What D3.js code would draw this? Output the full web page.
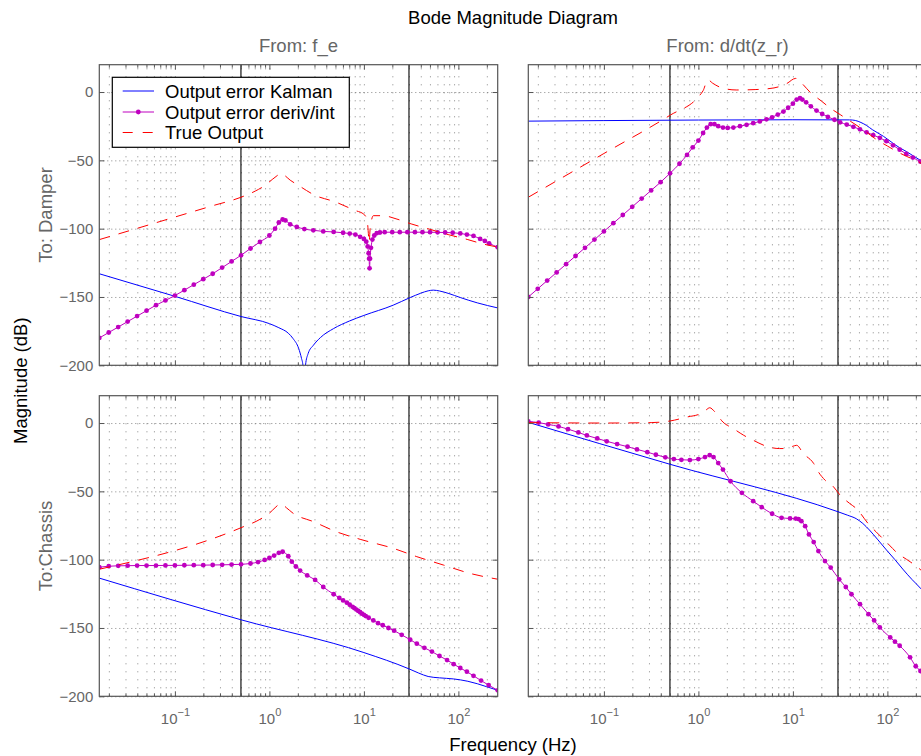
<!DOCTYPE html>
<html><head><meta charset="utf-8">
<script src="https://cdn.jsdelivr.net/npm/d3@7"></script>
<style>
html,body{margin:0;padding:0;background:#fff;}
svg{display:block;font-family:"Liberation Sans",Arial,Helvetica,sans-serif;}
</style></head><body><svg id="chart" width="921" height="756"></svg>
<script>
// ---------- labels / ticks ----------
const titleText = "Bode Magnitude Diagram";
const colLabels = ["From: f_e", "From: d/dt(z_r)"];
const rowLabels = ["To: Damper", "To:Chassis"];
const xLabel = "Frequency (Hz)";
const yLabel = "Magnitude (dB)";
const legendLabels = ["Output error Kalman", "Output error deriv/int", "True Output"];
const yTicks = [0, -50, -100, -150, -200];
const xTickMajors = [0.1, 1, 10, 100];
const xTickExps = ["\u22121", "0", "1", "2"];
const markerFreqs = [0.5, 30];
const logFreqRange = [-1.8, 2.416];   // log10(Hz)
const dbRange = [-200, 20];

// ---------- series: [log10(freq Hz), magnitude dB] ----------
// Damper <- f_e
const kalmanDamperFe = [[-1.8,-133],[-1.0,-149.5],[-0.3,-164.3],[0,-169.5],[0.1,-172.5],[0.2,-176.5],[0.25,-180.4],[0.31,-187.7],[0.34,-195],[0.355,-200],[0.368,-240],[0.382,-200],[0.41,-191.4],[0.466,-185.3],[0.54,-179.7],[0.68,-173.1],[0.85,-167.5],[1.0,-163.5],[1.31,-156],[1.49,-150.4],[1.6,-147.3],[1.68,-145.5],[1.735,-145],[1.8,-145.6],[1.9,-147.5],[2.02,-150.4],[2.2,-154.3],[2.416,-158]];
const derivDamperFe = [[-1.8,-180],[-1.7,-176],[-1.6,-172],[-1.5,-168],[-1.4,-164],[-1.3,-160],[-1.2,-156],[-1.1,-152.5],[-1.0,-149],[-0.9,-145],[-0.8,-141],[-0.7,-137],[-0.6,-133],[-0.5,-128.5],[-0.4,-124],[-0.3,-119.5],[-0.2,-114.5],[-0.1,-109.7],[0.0,-105],[0.06,-100],[0.1,-95.5],[0.14,-93.3],[0.17,-94],[0.22,-96.8],[0.29,-98.7],[0.37,-100.3],[0.465,-101.2],[0.57,-102],[0.68,-102.4],[0.78,-103],[0.85,-103.6],[0.91,-104.3],[0.96,-106],[1.0,-107.5],[1.025,-109.5],[1.04,-113],[1.05,-118],[1.055,-122],[1.06,-129],[1.065,-122],[1.075,-114],[1.09,-108],[1.11,-105],[1.136,-103.3],[1.17,-102.8],[1.22,-102.6],[1.3,-102.6],[1.38,-102.6],[1.46,-102.6],[1.54,-102.6],[1.62,-102.6],[1.7,-102.6],[1.78,-102.7],[1.86,-102.8],[1.94,-103],[2.02,-103.5],[2.09,-104.3],[2.16,-105.3],[2.23,-107.5],[2.28,-109],[2.325,-110.7],[2.416,-113.6]];
const trueDamperFe = [[-1.8,-108],[-1.4,-99.8],[-1.0,-91.5],[-0.6,-83.2],[-0.3,-77],[-0.15,-72.5],[-0.05,-68.5],[0.03,-64],[0.08,-61.3],[0.12,-59.5],[0.16,-61],[0.22,-64.5],[0.3,-68],[0.48,-75.5],[0.7,-80.5],[0.9,-86.5],[1.0,-89.5],[1.025,-92],[1.04,-97],[1.05,-106],[1.056,-110],[1.065,-101],[1.08,-94],[1.1,-90.5],[1.2,-90.5],[1.35,-93],[1.5,-96.5],[1.7,-100.5],[1.9,-104.5],[2.1,-108],[2.25,-111],[2.416,-113.5]];
// Damper <- d/dt(z_r)
const kalmanDamperDz = [[-1.8,-21.3],[-1.0,-20.9],[0,-20.5],[1.0,-20.3],[1.6,-20.4],[1.66,-20.8],[1.72,-22.3],[1.78,-24.5],[1.84,-27.5],[1.9,-30],[1.96,-32.5],[2.05,-37],[2.13,-40.8],[2.2,-43.5],[2.28,-47],[2.35,-50],[2.416,-53]];
const derivDamperDz = [[-1.8,-150],[-1.7,-144],[-1.6,-138],[-1.5,-132],[-1.4,-126],[-1.3,-120],[-1.2,-114],[-1.1,-108],[-1.0,-102],[-0.9,-96],[-0.8,-90],[-0.7,-84],[-0.6,-78],[-0.5,-72],[-0.4,-66],[-0.3,-59.5],[-0.2,-52.5],[-0.12,-46],[-0.06,-40.5],[0.0,-35.5],[0.05,-30],[0.09,-26],[0.13,-23.5],[0.17,-23.5],[0.21,-25],[0.26,-26],[0.31,-26.3],[0.37,-26],[0.44,-25],[0.51,-24],[0.58,-22.8],[0.65,-21.5],[0.72,-20],[0.78,-18.5],[0.84,-16.5],[0.9,-14.3],[0.95,-11.5],[1.0,-8.5],[1.04,-5.5],[1.075,-4.5],[1.1,-5.5],[1.14,-7.5],[1.19,-10.5],[1.25,-13.6],[1.31,-16],[1.37,-18.2],[1.44,-20.3],[1.5,-22.2],[1.57,-23.8],[1.64,-25.5],[1.71,-27.3],[1.78,-29.5],[1.85,-31.5],[1.92,-33.5],[1.99,-36],[2.06,-39],[2.13,-42.2],[2.2,-45.3],[2.27,-48],[2.35,-51],[2.416,-54]];
const trueDamperDz = [[-1.8,-77],[-1.0,-45],[-0.3,-17],[0.0,-3.5],[0.05,1],[0.1,9],[0.15,6.5],[0.25,3],[0.4,1.5],[0.6,1.8],[0.8,3],[0.93,6],[1.03,10],[1.1,6],[1.18,0],[1.3,-6.5],[1.4,-12],[1.5,-16.5],[1.6,-21],[1.7,-25.5],[1.8,-30.5],[1.9,-35.5],[2.0,-39.5],[2.1,-43.5],[2.2,-47],[2.3,-50],[2.416,-54.5]];
// Chassis <- f_e
const kalmanChassisFe = [[-1.8,-113.5],[-0.3,-144],[1.0,-168],[1.48,-180],[1.58,-183],[1.68,-185.5],[1.8,-186.5],[1.95,-187.3],[2.1,-189],[2.2,-190.8],[2.3,-193],[2.416,-195.6]];
const derivChassisFe = [[-1.8,-105.5],[-1.7,-104.8],[-1.6,-104.5],[-1.5,-104.4],[-1.4,-104.3],[-1.3,-104.3],[-1.2,-104.3],[-1.1,-104.2],[-1.0,-104.2],[-0.9,-104.1],[-0.8,-104],[-0.7,-104],[-0.6,-103.9],[-0.5,-103.8],[-0.4,-103.6],[-0.3,-103.4],[-0.2,-102.8],[-0.12,-101.8],[-0.05,-100.2],[0,-98.8],[0.05,-97],[0.1,-95],[0.14,-94.2],[0.2,-97.5],[0.237,-101.5],[0.28,-105],[0.325,-108],[0.4,-111.5],[0.484,-114.8],[0.57,-120],[0.68,-125.3],[0.74,-128],[0.78,-129.8],[0.82,-131.5],[0.85,-133],[0.88,-134.5],[0.9,-135.5],[0.92,-136.5],[0.94,-137.5],[0.96,-138.5],[0.98,-139.5],[1.0,-140.4],[1.02,-141.3],[1.05,-142.5],[1.1,-144.5],[1.15,-146.5],[1.2,-148],[1.26,-150],[1.32,-152],[1.4,-155],[1.49,-158.6],[1.56,-161.5],[1.64,-164.5],[1.72,-167.3],[1.8,-170.5],[1.88,-173.5],[1.95,-176.5],[2.02,-179.3],[2.09,-182],[2.16,-185],[2.24,-188.5],[2.32,-191.8],[2.416,-195.6]];
const trueChassisFe = [[-1.8,-107],[-0.3,-76.6],[-0.1,-70.5],[0,-66],[0.06,-62],[0.12,-59],[0.18,-62],[0.25,-66],[0.47,-72.3],[0.71,-79.6],[0.96,-85.1],[1.31,-91.7],[1.56,-97.8],[1.84,-103.9],[2.12,-110],[2.416,-114.3]];
// Chassis <- d/dt(z_r)
const kalmanChassisDz = [[-1.8,0.5],[-0.3,-30.2],[1.48,-65],[1.58,-67.5],[1.67,-70],[1.74,-73.5],[1.81,-78.3],[1.9,-85.5],[1.99,-92.9],[2.08,-100],[2.17,-107.5],[2.26,-114.5],[2.35,-120.9],[2.416,-126.5]];
const derivChassisDz = [[-1.8,1.2],[-1.69,0.3],[-1.59,-1],[-1.48,-2.5],[-1.38,-4.5],[-1.27,-6.9],[-1.18,-9.1],[-1.07,-11.3],[-0.97,-13.4],[-0.86,-15.4],[-0.75,-17.3],[-0.65,-19.3],[-0.54,-21.3],[-0.45,-23.2],[-0.35,-25.1],[-0.26,-26.4],[-0.18,-26.9],[-0.09,-27.1],[0,-26.4],[0.07,-24.9],[0.12,-23.5],[0.16,-24.9],[0.21,-29.3],[0.26,-34.1],[0.34,-42.6],[0.46,-51.1],[0.58,-57.2],[0.67,-61.6],[0.78,-66.4],[0.88,-69.4],[0.97,-69.8],[1.03,-69.9],[1.06,-70.3],[1.09,-71.8],[1.13,-75.5],[1.17,-81.5],[1.22,-87.1],[1.27,-93.7],[1.34,-101],[1.4,-105.8],[1.49,-114.4],[1.56,-120],[1.62,-125.3],[1.71,-132.6],[1.8,-139.9],[1.86,-144.5],[1.92,-149.6],[2.03,-156.9],[2.08,-160],[2.13,-163],[2.24,-171.5],[2.3,-178],[2.35,-181.5],[2.416,-186]];
const trueChassisDz = [[-1.8,0.3],[-1.0,0],[-0.5,0.3],[-0.3,1.5],[-0.12,4.4],[0.02,6.8],[0.08,9.5],[0.12,11.2],[0.17,8.5],[0.26,0.7],[0.37,-4.1],[0.48,-9],[0.58,-12.6],[0.72,-17],[0.86,-18.7],[0.93,-18.6],[1.0,-17],[1.04,-16.3],[1.11,-22.3],[1.22,-29.6],[1.27,-35.8],[1.34,-41.8],[1.43,-46.7],[1.5,-52.8],[1.6,-58.8],[1.67,-62.5],[1.81,-74.7],[1.88,-79.6],[2.02,-89.3],[2.09,-94.2],[2.24,-101.5],[2.31,-105],[2.416,-111.5]];

// ---------- layout ----------
const colX = [99.3, 528.3], plotW = 398.4;
const rowY = [64.7, 395.7], plotH = 300.6;
const colors = {kal: "#0000ff", der: "#bf00bf", tru: "#ff0000"};
const grayText = "#666666";

const panels = [
  {r:0, c:0, kal:kalmanDamperFe,  der:derivDamperFe,  tru:trueDamperFe},
  {r:0, c:1, kal:kalmanDamperDz,  der:derivDamperDz,  tru:trueDamperDz},
  {r:1, c:0, kal:kalmanChassisFe, der:derivChassisFe, tru:trueChassisFe},
  {r:1, c:1, kal:kalmanChassisDz, der:derivChassisDz, tru:trueChassisDz}
];

const svg = d3.select("#chart");
const defs = svg.append("defs");

panels.forEach(p => {
  const x0 = colX[p.c], y0 = rowY[p.r];
  const x = d3.scaleLog().domain([10 ** logFreqRange[0], 10 ** logFreqRange[1]]).range([x0, x0 + plotW]);
  const y = d3.scaleLinear().domain(dbRange).range([y0 + plotH, y0]);
  const g = svg.append("g");
  const cid = `clip${p.r}${p.c}`;
  defs.append("clipPath").attr("id", cid).append("rect")
    .attr("x", x0).attr("y", y0).attr("width", plotW).attr("height", plotH);

  g.append("rect").attr("x", x0).attr("y", y0).attr("width", plotW).attr("height", plotH).attr("fill", "#fff");

  // grid
  const allTicks = x.ticks();
  const vg = g.append("g").attr("transform", `translate(0,${y0 + plotH})`)
    .call(d3.axisBottom(x).tickValues(allTicks).tickSize(-plotH).tickFormat(""));
  vg.select(".domain").remove();
  vg.selectAll("line").attr("stroke", "#6a6a6a").attr("stroke-width", 0.8).attr("stroke-dasharray", "1,7");
  const hg = g.append("g").attr("transform", `translate(${x0},0)`)
    .call(d3.axisLeft(y).tickValues(yTicks).tickSize(-plotW).tickFormat(""));
  hg.select(".domain").remove();
  hg.selectAll("line").attr("stroke", "#6a6a6a").attr("stroke-width", 0.8).attr("stroke-dasharray", "1,3");

  // vertical marker lines
  markerFreqs.forEach(f => {
    g.append("line").attr("x1", x(f)).attr("x2", x(f)).attr("y1", y0).attr("y2", y0 + plotH)
      .attr("stroke", "#000").attr("stroke-width", 1.1);
  });

  const cg = g.append("g").attr("clip-path", `url(#${cid})`);
  const line = d3.line().x(d => x(10 ** d[0])).y(d => y(d[1])).curve(d3.curveMonotoneX);
  cg.append("path").attr("d", line(p.kal)).attr("fill", "none").attr("stroke", colors.kal).attr("stroke-width", 1);
  cg.append("path").attr("d", line(p.der)).attr("fill", "none").attr("stroke", colors.der).attr("stroke-width", 1);
  cg.selectAll("circle.m").data(p.der).join("circle").attr("class", "m")
    .attr("cx", d => x(10 ** d[0])).attr("cy", d => y(d[1])).attr("r", 2.4).attr("fill", colors.der);
  cg.append("path").attr("d", line(p.tru)).attr("fill", "none").attr("stroke", colors.tru).attr("stroke-width", 1)
    .attr("stroke-dasharray", "11,9");

  // tick marks (inward)
  const minorTicks = allTicks.filter(t => !xTickMajors.includes(t));
  const axStyle = sel => { sel.select(".domain").remove(); sel.selectAll("line").attr("stroke", "#555").attr("stroke-width", 1); };
  [[d3.axisBottom, y0 + plotH], [d3.axisTop, y0]].forEach(([ax, ty]) => {
    g.append("g").attr("transform", `translate(0,${ty})`).call(ax(x).tickValues(xTickMajors).tickSizeInner(-5).tickSizeOuter(0).tickFormat("")).call(axStyle);
    g.append("g").attr("transform", `translate(0,${ty})`).call(ax(x).tickValues(minorTicks).tickSizeInner(-3).tickSizeOuter(0).tickFormat("")).call(axStyle);
  });
  [[d3.axisLeft, x0], [d3.axisRight, x0 + plotW]].forEach(([ax, tx]) => {
    g.append("g").attr("transform", `translate(${tx},0)`).call(ax(y).tickValues(yTicks).tickSizeInner(-5).tickSizeOuter(0).tickFormat("")).call(axStyle);
  });

  // box
  g.append("rect").attr("x", x0).attr("y", y0).attr("width", plotW).attr("height", plotH)
    .attr("fill", "none").attr("stroke", "#555").attr("stroke-width", 1.2);

  // y tick labels (left column)
  if (p.c === 0) {
    const yl = g.append("g").attr("transform", `translate(${x0},0)`)
      .call(d3.axisLeft(y).tickValues(yTicks).tickSize(0).tickPadding(6).tickFormat(d => d === 0 ? "0" : "\u2212" + Math.abs(d)));
    yl.select(".domain").remove();
    yl.selectAll("text").attr("fill", grayText).attr("font-size", "15px")
      .attr("font-family", "Liberation Sans, Arial, sans-serif");
  }
  // x tick labels (bottom row)
  if (p.r === 1) {
    const xl = g.append("g").attr("transform", `translate(0,${y0 + plotH})`)
      .call(d3.axisBottom(x).tickValues(xTickMajors).tickSize(0).tickFormat(""));
    xl.select(".domain").remove();
    xl.selectAll(".tick text").each(function(d, i) {
      const t = d3.select(this);
      t.attr("y", 28).attr("dy", null).attr("fill", grayText).attr("font-size", "15px")
        .attr("font-family", "Liberation Sans, Arial, sans-serif").attr("text-anchor", "middle");
      t.append("tspan").text("10");
      t.append("tspan").attr("dy", -8).attr("font-size", "11px").text(xTickExps[i]);
    });
  }
});

// legend
const lg = svg.append("g");
lg.append("rect").attr("x", 112.3).attr("y", 77.3).attr("width", 237).attr("height", 70)
  .attr("fill", "#fff").attr("stroke", "#000").attr("stroke-width", 1.2);
const legendRowsY = [91, 112, 132.5];
const legendKeys = ["kal", "der", "tru"];
legendKeys.forEach((k, i) => {
  const ly = legendRowsY[i];
  lg.append("line").attr("x1", 122.7).attr("x2", 154).attr("y1", ly).attr("y2", ly)
    .attr("stroke", colors[k]).attr("stroke-width", 1)
    .attr("stroke-dasharray", k === "tru" ? "10,10" : null);
  if (k === "der") lg.append("circle").attr("cx", 138.3).attr("cy", ly).attr("r", 2.4).attr("fill", colors.der);
  lg.append("text").attr("x", 165).attr("y", ly).attr("dy", "0.36em").attr("font-size", "18.5px")
    .attr("fill", "#000").text(legendLabels[i]);
});

// titles / labels
svg.append("text").attr("x", 513).attr("y", 24).attr("text-anchor", "middle").attr("font-size", "18.5px").attr("fill", "#000").text(titleText);
colLabels.forEach((t, c) => {
  svg.append("text").attr("x", colX[c] + plotW / 2).attr("y", 52).attr("text-anchor", "middle")
    .attr("font-size", "18.5px").attr("fill", grayText).text(t);
});
rowLabels.forEach((t, r) => {
  const cy = rowY[r] + plotH / 2;
  svg.append("text").attr("transform", `translate(51.5,${cy}) rotate(-90)`).attr("text-anchor", "middle")
    .attr("font-size", "18.5px").attr("fill", grayText).text(t);
});
svg.append("text").attr("transform", `translate(27,380.7) rotate(-90)`).attr("text-anchor", "middle")
  .attr("font-size", "18.5px").attr("fill", "#000").text(yLabel);
svg.append("text").attr("x", 513).attr("y", 751).attr("text-anchor", "middle")
  .attr("font-size", "18.5px").attr("fill", "#000").text(xLabel);
</script></body></html>
